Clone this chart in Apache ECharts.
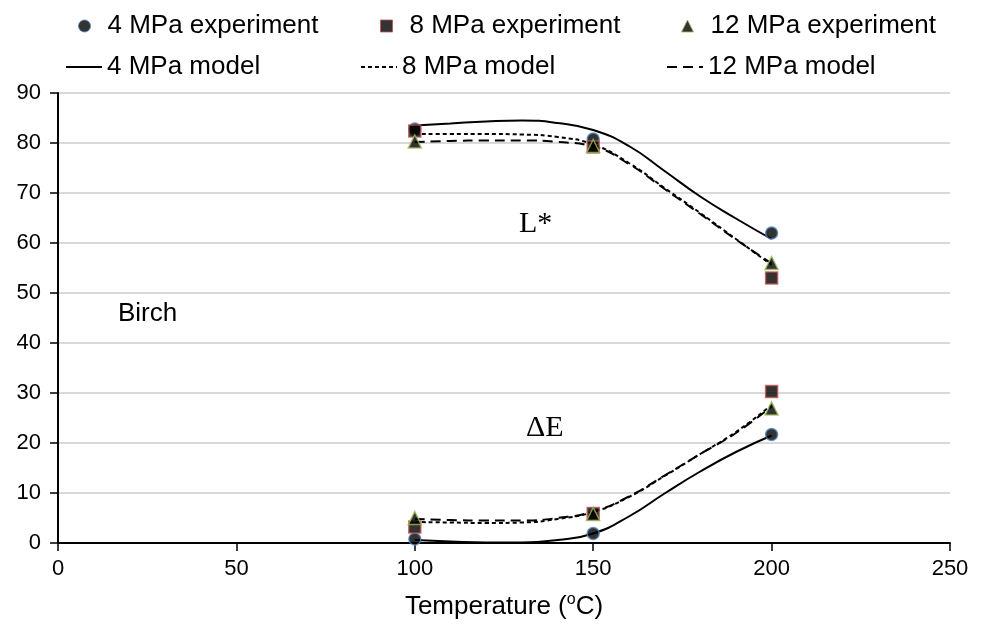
<!DOCTYPE html>
<html>
<head>
<meta charset="utf-8">
<script src="https://cdn.jsdelivr.net/npm/echarts@6/dist/echarts.min.js"></script>
<style>
  html, body { margin: 0; padding: 0; background: #fff; }
  #chart { width: 988px; height: 625px; }
</style>
</head>
<body>
<div id="chart"></div>
<script>
// 实验点 (temperature, value)
const expTemps = [100, 150, 200]
const exp4L = [82.8, 80.8, 62.0]
const exp8L = [82.4, 79.2, 53.0]
const exp12L = [80.3, 79.4, 56.0]
const exp4E = [0.8, 1.9, 21.7]
const exp8E = [3.2, 5.9, 30.3]
const exp12E = [5.0, 5.8, 26.9]

// 模型曲线，读取自图
const modelTemps = [100, 110, 120, 130, 140, 150, 160, 170, 180, 190, 200]
const model4L = [83.5, 83.9, 84.3, 84.5, 84.0, 82.6, 79.4, 74.4, 69.3, 64.9, 60.8]
const model8L = [81.8, 81.8, 81.8, 81.7, 81.2, 79.7, 76.0, 71.0, 66.0, 60.8, 55.6]
const model12L = [80.2, 80.4, 80.5, 80.5, 80.2, 79.3, 75.8, 70.8, 65.8, 60.7, 55.9]
const model4E = [0.6, 0.3, 0.1, 0.1, 0.6, 1.9, 5.3, 9.9, 14.3, 18.2, 21.5]
const model8E = [4.2, 4.1, 4.0, 4.1, 4.8, 6.2, 9.2, 13.4, 17.8, 22.2, 27.6]
const model12E = [4.8, 4.6, 4.5, 4.5, 5.0, 6.3, 9.3, 13.5, 17.8, 22.0, 27.3]

const xTicks = [0, 50, 100, 150, 200, 250]
const yTicks = [0, 10, 20, 30, 40, 50, 60, 70, 80, 90]

const pairs = function (xs, ys) {
  return xs.map((x, i) => [x, ys[i]])
}

const font = 'Liberation Sans, Arial, sans-serif'

const expSeries = function (name, symbol, border, l, e) {
  return {
    name: name,
    type: 'scatter',
    symbol: symbol,
    symbolSize: symbol === 'triangle' ? 13 : 12,
    itemStyle: { color: '#000', borderColor: border, borderWidth: 1.5 },
    z: 5,
    data: pairs(expTemps, l).concat(pairs(expTemps, e))
  }
}

const modelSeries = function (name, dash, ys) {
  return {
    name: name,
    type: 'line',
    smooth: 0.5,
    symbol: 'none',
    showSymbol: false,
    itemStyle: { color: '#000' },
    lineStyle: { color: '#000', width: 2, type: dash },
    z: 3,
    data: pairs(modelTemps, ys)
  }
}

// 实验图例：小图标 + 文字
const expLegend = function (name, icon, border, left) {
  return {
    data: [{ name: name, icon: icon }],
    left: left,
    top: 13,
    itemWidth: 12,
    itemHeight: 12,
    padding: 0,
    selectedMode: false,
    itemStyle: { color: '#000', borderColor: border, borderWidth: 1 },
    textStyle: { fontFamily: font, fontSize: 26, color: '#000', padding: [0, 0, 0, 12] }
  }
}

// 模型图例：线段 + 文字
const modelLegend = function (name, left) {
  return {
    data: [name],
    left: left,
    top: 54,
    itemWidth: 36,
    itemHeight: 12,
    padding: 0,
    selectedMode: false,
    itemStyle: { opacity: 0 },
    textStyle: { fontFamily: font, fontSize: 26, color: '#000' }
  }
}

let myChart = echarts.init(document.getElementById('chart'))
let option = {
  backgroundColor: '#fff',
  animation: false,
  legend: [
    expLegend('4 MPa experiment', 'circle', '#4f81bd', 78),
    expLegend('8 MPa experiment', 'rect', '#c0504d', 380),
    expLegend('12 MPa experiment', 'triangle', '#9bbb59', 681),
    modelLegend('4 MPa model', 65),
    modelLegend('8 MPa model', 360),
    modelLegend('12 MPa model', 666)
  ],
  grid: { left: 58, right: 38, top: 93, bottom: 82 },
  xAxis: {
    type: 'value',
    min: xTicks[0],
    max: xTicks[xTicks.length - 1],
    interval: 50,
    name: '{a|Temperature (}{s|o}{a|C)}',
    nameLocation: 'middle',
    nameGap: 49,
    nameTextStyle: {
      color: '#000',
      rich: {
        a: { fontFamily: font, fontSize: 26, color: '#000' },
        s: { fontFamily: font, fontSize: 16, color: '#000', padding: [0, 0, 14, 0] }
      }
    },
    axisLine: { lineStyle: { color: '#000', width: 2 } },
    axisTick: { show: true, length: 8, lineStyle: { color: '#000', width: 1.5 } },
    axisLabel: { fontFamily: font, fontSize: 22, color: '#000', margin: 15 },
    splitLine: { show: false }
  },
  yAxis: {
    type: 'value',
    min: yTicks[0],
    max: yTicks[yTicks.length - 1],
    interval: 10,
    axisLine: { show: true, lineStyle: { color: '#000', width: 2 } },
    axisTick: { show: true, length: 8, lineStyle: { color: '#000', width: 1.5 } },
    axisLabel: { fontFamily: font, fontSize: 22, color: '#000', margin: 17 },
    splitLine: { lineStyle: { color: '#cccccc', width: 1.5 } }
  },
  graphic: [
    { type: 'text', left: 118, top: 301, style: { text: 'Birch', font: '26px Liberation Sans, Arial, sans-serif', fill: '#000' } },
    { type: 'text', left: 519, top: 209, style: { text: 'L*', font: '30px Liberation Serif, Times New Roman, serif', fill: '#000' } },
    { type: 'text', left: 526, top: 413, style: { text: 'ΔE', font: '30px Liberation Serif, Times New Roman, serif', fill: '#000' } }
  ],
  series: [
    expSeries('4 MPa experiment', 'circle', '#4f81bd', exp4L, exp4E),
    expSeries('8 MPa experiment', 'rect', '#c0504d', exp8L, exp8E),
    expSeries('12 MPa experiment', 'triangle', '#9bbb59', exp12L, exp12E),
    modelSeries('4 MPa model', 'solid', model4L),
    modelSeries('4 MPa model', 'solid', model4E),
    modelSeries('8 MPa model', [4, 3], model8L),
    modelSeries('8 MPa model', [4, 3], model8E),
    modelSeries('12 MPa model', [10, 6], model12L),
    modelSeries('12 MPa model', [10, 6], model12E)
  ]
}
myChart.setOption(option)
</script>
</body>
</html>
